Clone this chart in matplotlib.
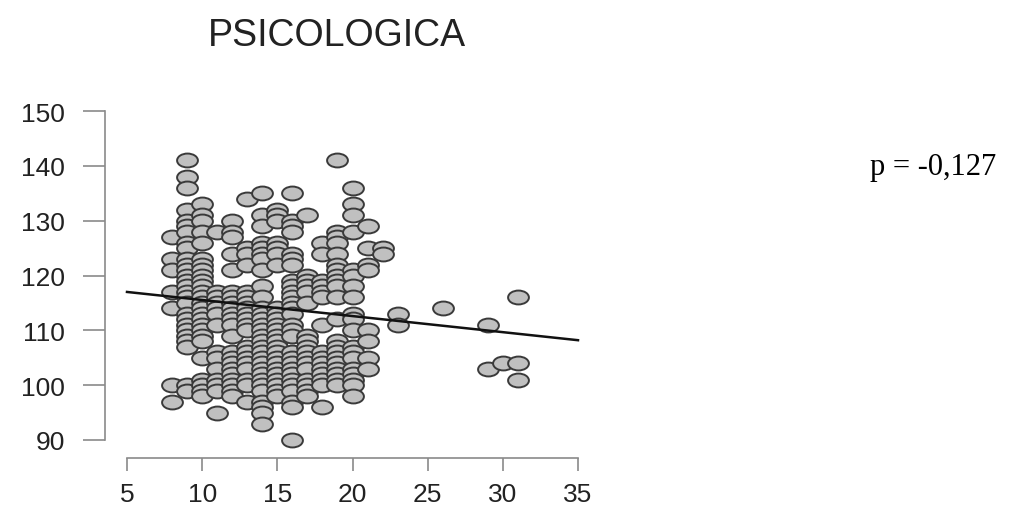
import numpy as np
import matplotlib
matplotlib.use("Agg")
import matplotlib.pyplot as plt
from matplotlib.markers import MarkerStyle
from matplotlib.transforms import Affine2D

# valores, una lista de y por cada x
y_at_8 = [127, 123, 121, 117, 114, 100, 97]
y_at_9 = [141, 138, 136, 132, 130, 129, 128, 126, 125, 123, 122, 121, 120, 119, 118,
          117, 116, 115, 113, 112, 111, 110, 109, 108, 107, 100, 99]
y_at_10 = [133, 131, 130, 128, 126, 123, 122, 121, 120, 119, 118, 117, 116, 115, 114,
           113, 112, 111, 110, 109, 108, 105, 101, 100, 99, 98]
y_at_11 = [128, 117, 116, 115, 114, 113, 111, 106, 105, 103, 101, 100, 99, 95]
y_at_12 = [130, 128, 127, 124, 121, 117, 116, 115, 114, 113, 112, 111, 109, 106, 105,
           104, 103, 102, 101, 100, 99, 98]
y_at_13 = [134, 125, 124, 122, 117, 116, 115, 114, 113, 112, 111, 110, 107, 106, 105,
           104, 103, 101, 100, 97]
y_at_14 = [135, 131, 129, 126, 125, 124, 123, 121, 118, 116, 114, 113, 112, 111, 110,
           109, 108, 107, 106, 105, 104, 103, 102, 101, 100, 99, 97, 96, 95, 93]
y_at_15 = [132, 131, 130, 126, 125, 124, 122, 114, 113, 112, 111, 110, 109, 108, 107,
           106, 105, 104, 103, 102, 101, 100, 99, 98]
y_at_16 = [135, 130, 129, 128, 124, 123, 122, 119, 118, 117, 116, 115, 114, 113, 111,
           110, 109, 106, 105, 104, 103, 102, 101, 100, 99, 97, 96, 90]
y_at_17 = [131, 120, 119, 118, 117, 115, 109, 108, 107, 106, 105, 104, 103, 101, 100, 99, 98]
y_at_18 = [126, 124, 119, 118, 117, 116, 111, 106, 105, 104, 103, 102, 101, 100, 96]
y_at_19 = [141, 128, 127, 126, 124, 122, 121, 120, 119, 118, 116, 112, 108, 107, 106,
           105, 104, 103, 102, 101, 100]
y_at_20 = [136, 133, 131, 128, 121, 120, 118, 116, 113, 112, 110, 107, 106, 105, 103,
           102, 101, 100, 98]
y_at_21 = [129, 125, 122, 121, 110, 108, 105, 103]
y_at_22 = [125, 124]
y_at_23 = [113, 111]
y_at_26 = [114]
y_at_29 = [111, 103]
y_at_30 = [104]
y_at_31 = [116, 104, 101]

x_values = [8, 9, 10, 11, 12, 13, 14, 15, 16, 17, 18, 19, 20, 21, 22, 23, 26, 29, 30, 31]
y_columns = [y_at_8, y_at_9, y_at_10, y_at_11, y_at_12, y_at_13, y_at_14, y_at_15,
             y_at_16, y_at_17, y_at_18, y_at_19, y_at_20, y_at_21, y_at_22, y_at_23,
             y_at_26, y_at_29, y_at_30, y_at_31]

# recta de regresion
line_x = [5, 35]
line_y = [117.0, 108.2]

x_ticks = [5, 10, 15, 20, 25, 30, 35]
y_ticks = [90, 100, 110, 120, 130, 140, 150]

xs = np.concatenate([[xv] * len(col) for xv, col in zip(x_values, y_columns)])
ys = np.concatenate(y_columns)

fig = plt.figure(figsize=(10.21, 5.06), dpi=100)
W, H = 1021, 506
left, right, bottom, top = 105, 595, 459, 100
ax = fig.add_axes([left / W, 1 - bottom / H, (right - left) / W, (bottom - top) / H])

ppx = (578 - 127) / 30.0
ppy = (441 - 112) / 60.0
ax.set_xlim(5 - (127 - left) / ppx, 35 + (right - 578) / ppx)
ax.set_ylim(90 - (bottom - 441) / ppy, 150 + (112 - top) / ppy)

marker = MarkerStyle('o', transform=Affine2D().scale(1.5, 1.0))
ax.scatter(xs, ys, s=100, marker=marker, facecolor='#c0c0c0', edgecolor='#3a3a3a',
           linewidths=1.4, zorder=2)
ax.plot(line_x, line_y, color='#111111', lw=1.8, zorder=3)

for s in ('top', 'right'):
    ax.spines[s].set_visible(False)
ax.spines['left'].set_bounds(90, 150)
ax.spines['bottom'].set_bounds(5, 35)
for s in ('left', 'bottom'):
    ax.spines[s].set_color('#8a8a8a')
    ax.spines[s].set_linewidth(1.2)

ax.set_xticks(x_ticks)
ax.set_yticks(y_ticks)
ax.tick_params(axis='y', length=16, width=1.2, color='#8a8a8a', pad=13,
               labelsize=19, labelcolor='#222222')
ax.tick_params(axis='x', length=9, width=1.2, color='#8a8a8a', pad=8,
               labelsize=19, labelcolor='#222222')
for lab in ax.get_xticklabels() + ax.get_yticklabels():
    lab.set_family('Liberation Sans')

fig.text(337 / W, 1 - 36 / H, 'PSICOLOGICA', ha='center', va='center',
         fontsize=27, family='Liberation Sans', color='#222222')
fig.text(870 / W, 1 - 167 / H, 'p = -0,127', ha='left', va='center',
         fontsize=22, family='Liberation Serif', color='black')

fig.savefig('out.png', dpi=100)
